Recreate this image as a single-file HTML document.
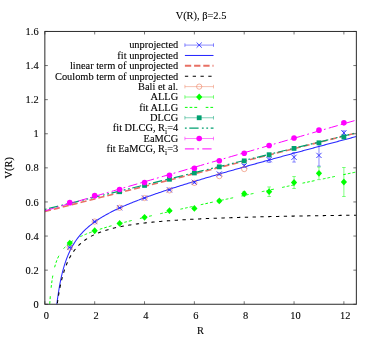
<!DOCTYPE html>
<html><head><meta charset="utf-8"><title>V(R)</title>
<style>html,body{margin:0;padding:0;background:#fff}svg{display:block;will-change:transform}</style></head>
<body>
<svg width="375" height="338" viewBox="0 0 375 338">
<rect width="375" height="338" fill="#fff"/>
<defs><clipPath id="c"><rect x="44.85" y="31.45" width="311.5" height="272.8"/></clipPath></defs>
<g stroke="#000" stroke-width="0.55" fill="none">
<path d="M44.85,304.25 h3 M356.35,304.25 h-3"/>
<path d="M44.85,270.15 h3 M356.35,270.15 h-3"/>
<path d="M44.85,236.05 h3 M356.35,236.05 h-3"/>
<path d="M44.85,201.95 h3 M356.35,201.95 h-3"/>
<path d="M44.85,167.85 h3 M356.35,167.85 h-3"/>
<path d="M44.85,133.75 h3 M356.35,133.75 h-3"/>
<path d="M44.85,99.65 h3 M356.35,99.65 h-3"/>
<path d="M44.85,65.55 h3 M356.35,65.55 h-3"/>
<path d="M44.85,31.45 h3 M356.35,31.45 h-3"/>
<path d="M44.85,304.25 v-3 M44.85,31.45 v3"/>
<path d="M94.69,304.25 v-3 M94.69,31.45 v3"/>
<path d="M144.53,304.25 v-3 M144.53,31.45 v3"/>
<path d="M194.37,304.25 v-3 M194.37,31.45 v3"/>
<path d="M244.21,304.25 v-3 M244.21,31.45 v3"/>
<path d="M294.05,304.25 v-3 M294.05,31.45 v3"/>
<path d="M343.89,304.25 v-3 M343.89,31.45 v3"/>
</g>
<g clip-path="url(#c)" fill="none">
<path d="M69.77,247.13 V247.81 M67.97,247.13 h3.6 M67.97,247.81 h3.6" stroke="#1818ff" stroke-width="0.5"/>
<path d="M67.17,244.87 l5.2,5.2 M67.17,250.07 l5.2,-5.2" stroke="#1818ff" stroke-width="0.8"/>
<path d="M94.69,221.22 V221.9 M92.89,221.22 h3.6 M92.89,221.9 h3.6" stroke="#1818ff" stroke-width="0.5"/>
<path d="M92.09,218.96 l5.2,5.2 M92.09,224.16 l5.2,-5.2" stroke="#1818ff" stroke-width="0.8"/>
<path d="M119.61,207.41 V208.09 M117.81,207.41 h3.6 M117.81,208.09 h3.6" stroke="#1818ff" stroke-width="0.5"/>
<path d="M117.01,205.15 l5.2,5.2 M117.01,210.35 l5.2,-5.2" stroke="#1818ff" stroke-width="0.8"/>
<path d="M144.53,197.52 V198.54 M142.73,197.52 h3.6 M142.73,198.54 h3.6" stroke="#1818ff" stroke-width="0.5"/>
<path d="M141.93,195.43 l5.2,5.2 M141.93,200.63 l5.2,-5.2" stroke="#1818ff" stroke-width="0.8"/>
<path d="M169.45,189.33 V190.36 M167.65,189.33 h3.6 M167.65,190.36 h3.6" stroke="#1818ff" stroke-width="0.5"/>
<path d="M166.85,187.24 l5.2,5.2 M166.85,192.44 l5.2,-5.2" stroke="#1818ff" stroke-width="0.8"/>
<path d="M194.37,181.66 V183.02 M192.57,181.66 h3.6 M192.57,183.02 h3.6" stroke="#1818ff" stroke-width="0.5"/>
<path d="M191.77,179.74 l5.2,5.2 M191.77,184.94 l5.2,-5.2" stroke="#1818ff" stroke-width="0.8"/>
<path d="M219.29,172.97 V175.01 M217.49,172.97 h3.6 M217.49,175.01 h3.6" stroke="#1818ff" stroke-width="0.5"/>
<path d="M216.69,171.39 l5.2,5.2 M216.69,176.59 l5.2,-5.2" stroke="#1818ff" stroke-width="0.8"/>
<path d="M244.21,164.44 V167.17 M242.41,164.44 h3.6 M242.41,167.17 h3.6" stroke="#1818ff" stroke-width="0.5"/>
<path d="M241.61,163.2 l5.2,5.2 M241.61,168.4 l5.2,-5.2" stroke="#1818ff" stroke-width="0.8"/>
<path d="M269.13,156.94 V162.39 M267.33,156.94 h3.6 M267.33,162.39 h3.6" stroke="#1818ff" stroke-width="0.5"/>
<path d="M266.53,157.07 l5.2,5.2 M266.53,162.27 l5.2,-5.2" stroke="#1818ff" stroke-width="0.8"/>
<path d="M294.05,152.5 V162.05 M292.25,152.5 h3.6 M292.25,162.05 h3.6" stroke="#1818ff" stroke-width="0.5"/>
<path d="M291.45,154.68 l5.2,5.2 M291.45,159.88 l5.2,-5.2" stroke="#1818ff" stroke-width="0.8"/>
<path d="M318.97,144.66 V166.14 M317.17,144.66 h3.6 M317.17,166.14 h3.6" stroke="#1818ff" stroke-width="0.5"/>
<path d="M316.37,152.8 l5.2,5.2 M316.37,158 l5.2,-5.2" stroke="#1818ff" stroke-width="0.8"/>
<path d="M343.89,130.85 V134.94 M342.09,130.85 h3.6 M342.09,134.94 h3.6" stroke="#1818ff" stroke-width="0.5"/>
<path d="M341.29,130.3 l5.2,5.2 M341.29,135.5 l5.2,-5.2" stroke="#1818ff" stroke-width="0.8"/>
<path d="M56.38,308.09 L57.39,299.79 L58.41,292.7 L59.42,286.56 L60.43,281.18 L61.45,276.43 L62.46,272.2 L63.47,268.4 L64.49,264.96 L65.5,261.84 L66.51,258.98 L67.53,256.36 L68.54,253.94 L69.55,251.7 L70.57,249.61 L71.58,247.67 L72.59,245.84 L73.61,244.13 L74.62,242.52 L75.63,240.99 L76.65,239.55 L77.66,238.18 L78.67,236.87 L79.69,235.63 L80.7,234.45 L81.71,233.31 L82.73,232.22 L83.74,231.18 L84.76,230.17 L85.77,229.2 L86.78,228.27 L87.8,227.37 L88.81,226.5 L89.82,225.65 L90.84,224.83 L91.85,224.04 L92.86,223.27 L93.88,222.52 L94.89,221.79 L95.9,221.08 L96.92,220.39 L97.93,219.71 L98.94,219.05 L99.96,218.4 L100.97,217.77 L101.98,217.15 L103,216.55 L104.01,215.95 L105.02,215.37 L106.04,214.8 L107.05,214.24 L108.06,213.69 L109.08,213.14 L110.09,212.61 L111.1,212.09 L112.12,211.57 L113.13,211.06 L114.14,210.56 L115.16,210.06 L116.17,209.58 L117.18,209.1 L118.2,208.62 L119.21,208.15 L120.22,207.69 L121.24,207.23 L122.25,206.78 L123.26,206.33 L124.28,205.89 L125.29,205.45 L126.31,205.02 L127.32,204.59 L128.33,204.16 L129.35,203.74 L130.36,203.33 L131.37,202.91 L132.39,202.5 L133.4,202.1 L134.41,201.7 L135.43,201.3 L136.44,200.9 L137.45,200.51 L138.47,200.12 L139.48,199.73 L140.49,199.35 L141.51,198.96 L142.52,198.59 L143.53,198.21 L144.55,197.83 L145.56,197.46 L146.57,197.09 L147.59,196.73 L148.6,196.36 L149.61,196 L150.63,195.64 L151.64,195.28 L152.65,194.92 L153.67,194.57 L154.68,194.21 L155.69,193.86 L156.71,193.51 L157.72,193.17 L158.73,192.82 L159.75,192.47 L160.76,192.13 L161.77,191.79 L162.79,191.45 L163.8,191.11 L164.81,190.77 L165.83,190.44 L166.84,190.1 L167.86,189.77 L168.87,189.44 L169.88,189.11 L170.9,188.78 L171.91,188.45 L172.92,188.12 L173.94,187.8 L174.95,187.47 L175.96,187.15 L176.98,186.82 L177.99,186.5 L179,186.18 L180.02,185.86 L181.03,185.54 L182.04,185.22 L183.06,184.91 L184.07,184.59 L185.08,184.27 L186.1,183.96 L187.11,183.65 L188.12,183.33 L189.14,183.02 L190.15,182.71 L191.16,182.4 L192.18,182.09 L193.19,181.78 L194.2,181.47 L195.22,181.16 L196.23,180.86 L197.24,180.55 L198.26,180.25 L199.27,179.94 L200.28,179.64 L201.3,179.33 L202.31,179.03 L203.32,178.73 L204.34,178.43 L205.35,178.12 L206.36,177.82 L207.38,177.52 L208.39,177.22 L209.41,176.92 L210.42,176.63 L211.43,176.33 L212.45,176.03 L213.46,175.73 L214.47,175.44 L215.49,175.14 L216.5,174.85 L217.51,174.55 L218.53,174.26 L219.54,173.96 L220.55,173.67 L221.57,173.37 L222.58,173.08 L223.59,172.79 L224.61,172.5 L225.62,172.21 L226.63,171.91 L227.65,171.62 L228.66,171.33 L229.67,171.04 L230.69,170.75 L231.7,170.46 L232.71,170.18 L233.73,169.89 L234.74,169.6 L235.75,169.31 L236.77,169.02 L237.78,168.74 L238.79,168.45 L239.81,168.16 L240.82,167.88 L241.83,167.59 L242.85,167.3 L243.86,167.02 L244.87,166.73 L245.89,166.45 L246.9,166.16 L247.91,165.88 L248.93,165.6 L249.94,165.31 L250.96,165.03 L251.97,164.75 L252.98,164.46 L254,164.18 L255.01,163.9 L256.02,163.62 L257.04,163.33 L258.05,163.05 L259.06,162.77 L260.08,162.49 L261.09,162.21 L262.1,161.93 L263.12,161.65 L264.13,161.37 L265.14,161.09 L266.16,160.81 L267.17,160.53 L268.18,160.25 L269.2,159.97 L270.21,159.69 L271.22,159.41 L272.24,159.14 L273.25,158.86 L274.26,158.58 L275.28,158.3 L276.29,158.02 L277.3,157.75 L278.32,157.47 L279.33,157.19 L280.34,156.92 L281.36,156.64 L282.37,156.36 L283.38,156.09 L284.4,155.81 L285.41,155.53 L286.42,155.26 L287.44,154.98 L288.45,154.71 L289.46,154.43 L290.48,154.16 L291.49,153.88 L292.5,153.61 L293.52,153.33 L294.53,153.06 L295.55,152.78 L296.56,152.51 L297.57,152.23 L298.59,151.96 L299.6,151.69 L300.61,151.41 L301.63,151.14 L302.64,150.87 L303.65,150.59 L304.67,150.32 L305.68,150.05 L306.69,149.77 L307.71,149.5 L308.72,149.23 L309.73,148.96 L310.75,148.68 L311.76,148.41 L312.77,148.14 L313.79,147.87 L314.8,147.59 L315.81,147.32 L316.83,147.05 L317.84,146.78 L318.85,146.51 L319.87,146.24 L320.88,145.97 L321.89,145.69 L322.91,145.42 L323.92,145.15 L324.93,144.88 L325.95,144.61 L326.96,144.34 L327.97,144.07 L328.99,143.8 L330,143.53 L331.01,143.26 L332.03,142.99 L333.04,142.72 L334.05,142.45 L335.07,142.18 L336.08,141.91 L337.1,141.64 L338.11,141.37 L339.12,141.1 L340.14,140.83 L341.15,140.56 L342.16,140.3 L343.18,140.03 L344.19,139.76 L345.2,139.49 L346.22,139.22 L347.23,138.95 L348.24,138.68 L349.26,138.41 L350.27,138.15 L351.28,137.88 L352.3,137.61 L353.31,137.34 L354.32,137.07 L355.34,136.81 L356.35,136.54" stroke="#2a2aff" stroke-width="1.05"/>
<path d="M44.85,211.5 L51.08,209.92 L57.31,208.35 L63.54,206.78 L69.77,205.21 L76,203.63 L82.23,202.06 L88.46,200.49 L94.69,198.91 L100.92,197.34 L107.15,195.77 L113.38,194.2 L119.61,192.62 L125.84,191.05 L132.07,189.48 L138.3,187.9 L144.53,186.33 L150.76,184.76 L156.99,183.19 L163.22,181.61 L169.45,180.04 L175.68,178.47 L181.91,176.89 L188.14,175.32 L194.37,173.75 L200.6,172.18 L206.83,170.6 L213.06,169.03 L219.29,167.46 L225.52,165.88 L231.75,164.31 L237.98,162.74 L244.21,161.17 L250.44,159.59 L256.67,158.02 L262.9,156.45 L269.13,154.87 L275.36,153.3 L281.59,151.73 L287.82,150.16 L294.05,148.58 L300.28,147.01 L306.51,145.44 L312.74,143.86 L318.97,142.29 L325.2,140.72 L331.43,139.15 L337.66,137.57 L343.89,136 L350.12,134.43 L356.35,132.85" stroke="#e87064" stroke-width="1.6" stroke-dasharray="6.2 3"/>
<path d="M56.38,311 L57.39,302.96 L58.41,296.12 L59.42,290.24 L60.43,285.11 L61.45,280.62 L62.46,276.64 L63.47,273.1 L64.49,269.92 L65.5,267.05 L66.51,264.45 L67.53,262.09 L68.54,259.92 L69.55,257.94 L70.57,256.11 L71.58,254.41 L72.59,252.85 L73.61,251.39 L74.62,250.03 L75.63,248.76 L76.65,247.58 L77.66,246.46 L78.67,245.41 L79.69,244.43 L80.7,243.5 L81.71,242.62 L82.73,241.78 L83.74,241 L84.76,240.25 L85.77,239.53 L86.78,238.86 L87.8,238.21 L88.81,237.59 L89.82,237.01 L90.84,236.44 L91.85,235.91 L92.86,235.39 L93.88,234.9 L94.89,234.42 L95.9,233.97 L96.92,233.53 L97.93,233.11 L98.94,232.71 L99.96,232.32 L100.97,231.94 L101.98,231.58 L103,231.23 L104.01,230.89 L105.02,230.56 L106.04,230.25 L107.05,229.94 L108.06,229.65 L109.08,229.36 L110.09,229.08 L111.1,228.81 L112.12,228.55 L113.13,228.3 L114.14,228.05 L115.16,227.81 L116.17,227.58 L117.18,227.36 L118.2,227.14 L119.21,226.93 L120.22,226.72 L121.24,226.52 L122.25,226.32 L123.26,226.13 L124.28,225.94 L125.29,225.76 L126.31,225.58 L127.32,225.41 L128.33,225.24 L129.35,225.07 L130.36,224.91 L131.37,224.76 L132.39,224.6 L133.4,224.45 L134.41,224.31 L135.43,224.16 L136.44,224.02 L137.45,223.89 L138.47,223.75 L139.48,223.62 L140.49,223.49 L141.51,223.37 L142.52,223.24 L143.53,223.12 L144.55,223 L145.56,222.89 L146.57,222.78 L147.59,222.66 L148.6,222.56 L149.61,222.45 L150.63,222.34 L151.64,222.24 L152.65,222.14 L153.67,222.04 L154.68,221.94 L155.69,221.85 L156.71,221.75 L157.72,221.66 L158.73,221.57 L159.75,221.48 L160.76,221.4 L161.77,221.31 L162.79,221.23 L163.8,221.14 L164.81,221.06 L165.83,220.98 L166.84,220.9 L167.86,220.82 L168.87,220.75 L169.88,220.67 L170.9,220.6 L171.91,220.53 L172.92,220.46 L173.94,220.39 L174.95,220.32 L175.96,220.25 L176.98,220.18 L177.99,220.11 L179,220.05 L180.02,219.99 L181.03,219.92 L182.04,219.86 L183.06,219.8 L184.07,219.74 L185.08,219.68 L186.1,219.62 L187.11,219.56 L188.12,219.51 L189.14,219.45 L190.15,219.39 L191.16,219.34 L192.18,219.28 L193.19,219.23 L194.2,219.18 L195.22,219.13 L196.23,219.08 L197.24,219.03 L198.26,218.98 L199.27,218.93 L200.28,218.88 L201.3,218.83 L202.31,218.78 L203.32,218.74 L204.34,218.69 L205.35,218.65 L206.36,218.6 L207.38,218.56 L208.39,218.51 L209.41,218.47 L210.42,218.43 L211.43,218.38 L212.45,218.34 L213.46,218.3 L214.47,218.26 L215.49,218.22 L216.5,218.18 L217.51,218.14 L218.53,218.1 L219.54,218.07 L220.55,218.03 L221.57,217.99 L222.58,217.95 L223.59,217.92 L224.61,217.88 L225.62,217.84 L226.63,217.81 L227.65,217.77 L228.66,217.74 L229.67,217.7 L230.69,217.67 L231.7,217.64 L232.71,217.6 L233.73,217.57 L234.74,217.54 L235.75,217.51 L236.77,217.48 L237.78,217.44 L238.79,217.41 L239.81,217.38 L240.82,217.35 L241.83,217.32 L242.85,217.29 L243.86,217.26 L244.87,217.23 L245.89,217.2 L246.9,217.18 L247.91,217.15 L248.93,217.12 L249.94,217.09 L250.96,217.06 L251.97,217.04 L252.98,217.01 L254,216.98 L255.01,216.96 L256.02,216.93 L257.04,216.9 L258.05,216.88 L259.06,216.85 L260.08,216.83 L261.09,216.8 L262.1,216.78 L263.12,216.75 L264.13,216.73 L265.14,216.71 L266.16,216.68 L267.17,216.66 L268.18,216.63 L269.2,216.61 L270.21,216.59 L271.22,216.57 L272.24,216.54 L273.25,216.52 L274.26,216.5 L275.28,216.48 L276.29,216.45 L277.3,216.43 L278.32,216.41 L279.33,216.39 L280.34,216.37 L281.36,216.35 L282.37,216.33 L283.38,216.31 L284.4,216.29 L285.41,216.27 L286.42,216.25 L287.44,216.23 L288.45,216.21 L289.46,216.19 L290.48,216.17 L291.49,216.15 L292.5,216.13 L293.52,216.11 L294.53,216.09 L295.55,216.07 L296.56,216.06 L297.57,216.04 L298.59,216.02 L299.6,216 L300.61,215.98 L301.63,215.97 L302.64,215.95 L303.65,215.93 L304.67,215.91 L305.68,215.9 L306.69,215.88 L307.71,215.86 L308.72,215.85 L309.73,215.83 L310.75,215.81 L311.76,215.8 L312.77,215.78 L313.79,215.76 L314.8,215.75 L315.81,215.73 L316.83,215.72 L317.84,215.7 L318.85,215.68 L319.87,215.67 L320.88,215.65 L321.89,215.64 L322.91,215.62 L323.92,215.61 L324.93,215.59 L325.95,215.58 L326.96,215.56 L327.97,215.55 L328.99,215.54 L330,215.52 L331.01,215.51 L332.03,215.49 L333.04,215.48 L334.05,215.46 L335.07,215.45 L336.08,215.44 L337.1,215.42 L338.11,215.41 L339.12,215.4 L340.14,215.38 L341.15,215.37 L342.16,215.36 L343.18,215.34 L344.19,215.33 L345.2,215.32 L346.22,215.3 L347.23,215.29 L348.24,215.28 L349.26,215.27 L350.27,215.25 L351.28,215.24 L352.3,215.23 L353.31,215.22 L354.32,215.2 L355.34,215.19 L356.35,215.18" stroke="#000000" stroke-width="1.05" stroke-dasharray="3.3 4.5"/>
<circle cx="69.77" cy="247.47" r="2.65" stroke="#ee8262" stroke-width="0.62"/>
<circle cx="94.69" cy="221.56" r="2.65" stroke="#ee8262" stroke-width="0.62"/>
<circle cx="119.61" cy="207.75" r="2.65" stroke="#ee8262" stroke-width="0.62"/>
<circle cx="144.53" cy="198.03" r="2.65" stroke="#ee8262" stroke-width="0.62"/>
<circle cx="169.45" cy="190.36" r="2.65" stroke="#ee8262" stroke-width="0.62"/>
<circle cx="194.37" cy="182.85" r="2.65" stroke="#ee8262" stroke-width="0.62"/>
<circle cx="219.29" cy="176.12" r="2.65" stroke="#ee8262" stroke-width="0.62"/>
<circle cx="244.21" cy="169.04" r="2.65" stroke="#ee8262" stroke-width="0.62"/>
<path d="M69.77,242.53 V243.55 M67.97,242.53 h3.6 M67.97,243.55 h3.6" stroke="#00ff00" stroke-width="0.5"/>
<path d="M69.77,239.64 l3.1,3.4 l-3.1,3.4 l-3.1,-3.4 z" fill="#00ff00"/>
<path d="M94.69,230.25 V231.28 M92.89,230.25 h3.6 M92.89,231.28 h3.6" stroke="#00ff00" stroke-width="0.5"/>
<path d="M94.69,227.36 l3.1,3.4 l-3.1,3.4 l-3.1,-3.4 z" fill="#00ff00"/>
<path d="M119.61,222.92 V223.94 M117.81,222.92 h3.6 M117.81,223.94 h3.6" stroke="#00ff00" stroke-width="0.5"/>
<path d="M119.61,220.03 l3.1,3.4 l-3.1,3.4 l-3.1,-3.4 z" fill="#00ff00"/>
<path d="M144.53,216.61 V217.98 M142.73,216.61 h3.6 M142.73,217.98 h3.6" stroke="#00ff00" stroke-width="0.5"/>
<path d="M144.53,213.9 l3.1,3.4 l-3.1,3.4 l-3.1,-3.4 z" fill="#00ff00"/>
<path d="M169.45,209.79 V211.5 M167.65,209.79 h3.6 M167.65,211.5 h3.6" stroke="#00ff00" stroke-width="0.5"/>
<path d="M169.45,207.25 l3.1,3.4 l-3.1,3.4 l-3.1,-3.4 z" fill="#00ff00"/>
<path d="M194.37,207.41 V209.45 M192.57,207.41 h3.6 M192.57,209.45 h3.6" stroke="#00ff00" stroke-width="0.5"/>
<path d="M194.37,205.03 l3.1,3.4 l-3.1,3.4 l-3.1,-3.4 z" fill="#00ff00"/>
<path d="M219.29,199.56 V202.29 M217.49,199.56 h3.6 M217.49,202.29 h3.6" stroke="#00ff00" stroke-width="0.5"/>
<path d="M219.29,197.53 l3.1,3.4 l-3.1,3.4 l-3.1,-3.4 z" fill="#00ff00"/>
<path d="M244.21,191.72 V195.81 M242.41,191.72 h3.6 M242.41,195.81 h3.6" stroke="#00ff00" stroke-width="0.5"/>
<path d="M244.21,190.37 l3.1,3.4 l-3.1,3.4 l-3.1,-3.4 z" fill="#00ff00"/>
<path d="M269.13,186.95 V196.49 M267.33,186.95 h3.6 M267.33,196.49 h3.6" stroke="#00ff00" stroke-width="0.5"/>
<path d="M269.13,188.32 l3.1,3.4 l-3.1,3.4 l-3.1,-3.4 z" fill="#00ff00"/>
<path d="M294.05,176.55 V188.48 M292.25,176.55 h3.6 M292.25,188.48 h3.6" stroke="#00ff00" stroke-width="0.5"/>
<path d="M294.05,179.11 l3.1,3.4 l-3.1,3.4 l-3.1,-3.4 z" fill="#00ff00"/>
<path d="M318.97,167 V179.61 M317.17,167 h3.6 M317.17,179.61 h3.6" stroke="#00ff00" stroke-width="0.5"/>
<path d="M318.97,169.91 l3.1,3.4 l-3.1,3.4 l-3.1,-3.4 z" fill="#00ff00"/>
<path d="M343.89,167.51 V196.49 M342.09,167.51 h3.6 M342.09,196.49 h3.6" stroke="#00ff00" stroke-width="0.5"/>
<path d="M343.89,178.6 l3.1,3.4 l-3.1,3.4 l-3.1,-3.4 z" fill="#00ff00"/>
<path d="M49.4,308.5 L50.43,294.41 L51.46,284.64 L52.49,277.45 L53.52,271.92 L54.55,267.52 L55.58,263.92 L56.61,260.92 L57.64,258.36 L58.67,256.16 L59.7,254.23 L60.73,252.53 L61.76,251 L62.79,249.63 L63.82,248.39 L64.85,247.25 L65.88,246.2 L66.91,245.23 L67.94,244.33 L68.97,243.49 L70,242.7 L71.03,241.95 L72.06,241.25 L73.09,240.58 L74.12,239.94 L75.15,239.34 L76.18,238.75 L77.21,238.2 L78.24,237.66 L79.27,237.15 L80.3,236.65 L81.33,236.16 L82.36,235.7 L83.39,235.24 L84.42,234.8 L85.45,234.38 L86.48,233.96 L87.51,233.55 L88.54,233.15 L89.57,232.76 L90.6,232.38 L91.63,232.01 L92.66,231.64 L93.69,231.28 L94.72,230.92 L95.75,230.58 L96.78,230.23 L97.81,229.9 L98.84,229.56 L99.87,229.23 L100.9,228.91 L101.93,228.59 L102.96,228.28 L103.99,227.96 L105.02,227.66 L106.05,227.35 L107.08,227.05 L108.11,226.75 L109.14,226.45 L110.17,226.16 L111.2,225.87 L112.23,225.58 L113.26,225.3 L114.29,225.01 L115.32,224.73 L116.35,224.45 L117.38,224.17 L118.41,223.9 L119.44,223.62 L120.47,223.35 L121.5,223.08 L122.53,222.81 L123.56,222.55 L124.59,222.28 L125.62,222.02 L126.65,221.75 L127.68,221.49 L128.71,221.23 L129.74,220.97 L130.77,220.72 L131.8,220.46 L132.83,220.21 L133.86,219.95 L134.89,219.7 L135.92,219.45 L136.95,219.19 L137.98,218.94 L139.01,218.69 L140.04,218.45 L141.07,218.2 L142.1,217.95 L143.13,217.7 L144.16,217.46 L145.19,217.21 L146.22,216.97 L147.25,216.73 L148.28,216.48 L149.31,216.24 L150.34,216 L151.37,215.76 L152.4,215.52 L153.43,215.28 L154.46,215.04 L155.49,214.8 L156.52,214.57 L157.55,214.33 L158.58,214.09 L159.61,213.85 L160.64,213.62 L161.67,213.38 L162.7,213.15 L163.74,212.91 L164.77,212.68 L165.8,212.45 L166.83,212.21 L167.86,211.98 L168.89,211.75 L169.92,211.52 L170.95,211.28 L171.98,211.05 L173.01,210.82 L174.04,210.59 L175.07,210.36 L176.1,210.13 L177.13,209.9 L178.16,209.67 L179.19,209.44 L180.22,209.21 L181.25,208.99 L182.28,208.76 L183.31,208.53 L184.34,208.3 L185.37,208.08 L186.4,207.85 L187.43,207.62 L188.46,207.39 L189.49,207.17 L190.52,206.94 L191.55,206.72 L192.58,206.49 L193.61,206.27 L194.64,206.04 L195.67,205.82 L196.7,205.59 L197.73,205.37 L198.76,205.14 L199.79,204.92 L200.82,204.69 L201.85,204.47 L202.88,204.25 L203.91,204.02 L204.94,203.8 L205.97,203.58 L207,203.35 L208.03,203.13 L209.06,202.91 L210.09,202.69 L211.12,202.47 L212.15,202.24 L213.18,202.02 L214.21,201.8 L215.24,201.58 L216.27,201.36 L217.3,201.14 L218.33,200.91 L219.36,200.69 L220.39,200.47 L221.42,200.25 L222.45,200.03 L223.48,199.81 L224.51,199.59 L225.54,199.37 L226.57,199.15 L227.6,198.93 L228.63,198.71 L229.66,198.49 L230.69,198.27 L231.72,198.05 L232.75,197.83 L233.78,197.61 L234.81,197.39 L235.84,197.18 L236.87,196.96 L237.9,196.74 L238.93,196.52 L239.96,196.3 L240.99,196.08 L242.02,195.86 L243.05,195.64 L244.08,195.43 L245.11,195.21 L246.14,194.99 L247.17,194.77 L248.2,194.55 L249.23,194.34 L250.26,194.12 L251.29,193.9 L252.32,193.68 L253.35,193.47 L254.38,193.25 L255.41,193.03 L256.44,192.81 L257.47,192.6 L258.5,192.38 L259.53,192.16 L260.56,191.95 L261.59,191.73 L262.62,191.51 L263.65,191.3 L264.68,191.08 L265.71,190.86 L266.74,190.65 L267.77,190.43 L268.8,190.21 L269.83,190 L270.86,189.78 L271.89,189.56 L272.92,189.35 L273.95,189.13 L274.98,188.92 L276.01,188.7 L277.04,188.48 L278.07,188.27 L279.1,188.05 L280.13,187.84 L281.16,187.62 L282.19,187.41 L283.22,187.19 L284.25,186.98 L285.28,186.76 L286.31,186.54 L287.34,186.33 L288.37,186.11 L289.4,185.9 L290.43,185.68 L291.46,185.47 L292.49,185.25 L293.52,185.04 L294.55,184.82 L295.58,184.61 L296.61,184.39 L297.64,184.18 L298.67,183.96 L299.7,183.75 L300.73,183.53 L301.76,183.32 L302.79,183.1 L303.82,182.89 L304.85,182.68 L305.88,182.46 L306.91,182.25 L307.94,182.03 L308.97,181.82 L310,181.6 L311.03,181.39 L312.06,181.18 L313.09,180.96 L314.12,180.75 L315.15,180.53 L316.18,180.32 L317.21,180.1 L318.24,179.89 L319.27,179.68 L320.3,179.46 L321.33,179.25 L322.36,179.03 L323.39,178.82 L324.42,178.61 L325.45,178.39 L326.48,178.18 L327.51,177.97 L328.54,177.75 L329.57,177.54 L330.6,177.32 L331.63,177.11 L332.66,176.9 L333.69,176.68 L334.72,176.47 L335.75,176.26 L336.78,176.04 L337.81,175.83 L338.84,175.62 L339.87,175.4 L340.9,175.19 L341.93,174.98 L342.96,174.76 L343.99,174.55 L345.02,174.34 L346.05,174.12 L347.08,173.91 L348.11,173.7 L349.14,173.48 L350.17,173.27 L351.2,173.06 L352.23,172.84 L353.26,172.63 L354.29,172.42 L355.32,172.21 L356.35,171.99" stroke="#00ff00" stroke-width="1.0" stroke-dasharray="2.7 2 2.7 2 2.9 8.5"/>
<rect x="117.21" y="189.32" width="4.8" height="4.8" fill="#00a070"/>
<rect x="142.13" y="183.01" width="4.8" height="4.8" fill="#00a070"/>
<rect x="167.05" y="176.87" width="4.8" height="4.8" fill="#00a070"/>
<rect x="191.97" y="170.56" width="4.8" height="4.8" fill="#00a070"/>
<rect x="216.89" y="164.43" width="4.8" height="4.8" fill="#00a070"/>
<rect x="241.81" y="158.46" width="4.8" height="4.8" fill="#00a070"/>
<rect x="266.73" y="152.32" width="4.8" height="4.8" fill="#00a070"/>
<rect x="291.65" y="146.01" width="4.8" height="4.8" fill="#00a070"/>
<rect x="316.57" y="140.39" width="4.8" height="4.8" fill="#00a070"/>
<rect x="341.49" y="134.59" width="4.8" height="4.8" fill="#00a070"/>
<path d="M44.85,209.45 L51.08,207.92 L57.31,206.39 L63.54,204.86 L69.77,203.33 L76,201.8 L82.23,200.26 L88.46,198.73 L94.69,197.2 L100.92,195.67 L107.15,194.14 L113.38,192.61 L119.61,191.08 L125.84,189.55 L132.07,188.02 L138.3,186.49 L144.53,184.95 L150.76,183.42 L156.99,181.89 L163.22,180.36 L169.45,178.83 L175.68,177.3 L181.91,175.77 L188.14,174.24 L194.37,172.71 L200.6,171.17 L206.83,169.64 L213.06,168.11 L219.29,166.58 L225.52,165.05 L231.75,163.52 L237.98,161.99 L244.21,160.46 L250.44,158.93 L256.67,157.39 L262.9,155.86 L269.13,154.33 L275.36,152.8 L281.59,151.27 L287.82,149.74 L294.05,148.21 L300.28,146.68 L306.51,145.15 L312.74,143.62 L318.97,142.08 L325.2,140.55 L331.43,139.02 L337.66,137.49 L343.89,135.96 L350.12,134.43 L356.35,132.9" stroke="#00a070" stroke-width="1.2" stroke-dasharray="1.8 2.6 9.3 3.3 1.8 2.6"/>
<circle cx="69.77" cy="202.63" r="2.8" fill="#ff00ff"/>
<circle cx="94.69" cy="195.64" r="2.8" fill="#ff00ff"/>
<circle cx="119.61" cy="189.5" r="2.8" fill="#ff00ff"/>
<circle cx="144.53" cy="182.51" r="2.8" fill="#ff00ff"/>
<circle cx="169.45" cy="175.35" r="2.8" fill="#ff00ff"/>
<circle cx="194.37" cy="168.19" r="2.8" fill="#ff00ff"/>
<circle cx="219.29" cy="160.69" r="2.8" fill="#ff00ff"/>
<circle cx="244.21" cy="153.19" r="2.8" fill="#ff00ff"/>
<circle cx="269.13" cy="145.51" r="2.8" fill="#ff00ff"/>
<circle cx="294.05" cy="138.01" r="2.8" fill="#ff00ff"/>
<circle cx="318.97" cy="130.17" r="2.8" fill="#ff00ff"/>
<circle cx="343.89" cy="122.84" r="2.8" fill="#ff00ff"/>
<path d="M44.85,210.82 L51.08,209 L57.31,207.19 L63.54,205.37 L69.77,203.56 L76,201.74 L82.23,199.93 L88.46,198.12 L94.69,196.3 L100.92,194.49 L107.15,192.67 L113.38,190.86 L119.61,189.05 L125.84,187.23 L132.07,185.42 L138.3,183.6 L144.53,181.79 L150.76,179.98 L156.99,178.16 L163.22,176.35 L169.45,174.53 L175.68,172.72 L181.91,170.9 L188.14,169.09 L194.37,167.28 L200.6,165.46 L206.83,163.65 L213.06,161.83 L219.29,160.02 L225.52,158.21 L231.75,156.39 L237.98,154.58 L244.21,152.76 L250.44,150.95 L256.67,149.14 L262.9,147.32 L269.13,145.51 L275.36,143.69 L281.59,141.88 L287.82,140.07 L294.05,138.25 L300.28,136.44 L306.51,134.62 L312.74,132.81 L318.97,130.99 L325.2,129.18 L331.43,127.37 L337.66,125.55 L343.89,123.74 L350.12,121.92 L356.35,120.11" stroke="#ff00ff" stroke-width="1.0" stroke-dasharray="9.3 3 1.8 3.3"/>
</g>
<rect x="44.85" y="31.45" width="311.5" height="272.8" fill="none" stroke="#2a2a2a" stroke-width="1.0"/>
<g font-family="'Liberation Serif', serif" font-size="10.4" fill="#000" stroke="#000" stroke-width="0.1">
<text x="178.2" y="48.4" text-anchor="end">unprojected</text>
<text x="178.2" y="58.78" text-anchor="end">fit unprojected</text>
<text x="178.2" y="69.16" text-anchor="end">linear term of unprojected</text>
<text x="178.2" y="79.54" text-anchor="end">Coulomb term of unprojected</text>
<text x="178.2" y="89.92" text-anchor="end">Bali et al.</text>
<text x="178.2" y="100.3" text-anchor="end">ALLG</text>
<text x="178.2" y="110.68" text-anchor="end">fit ALLG</text>
<text x="178.2" y="121.06" text-anchor="end">DLCG</text>
<text x="178.2" y="131.44" text-anchor="end">fit DLCG, R<tspan dy="2.5" font-size="7.5">i</tspan><tspan dy="-2.5">=4</tspan></text>
<text x="178.2" y="141.82" text-anchor="end">EaMCG</text>
<text x="178.2" y="152.2" text-anchor="end">fit EaMCG, R<tspan dy="2.5" font-size="7.5">i</tspan><tspan dy="-2.5">=3</tspan></text>
<text x="38.6" y="307.85" text-anchor="end">0</text>
<text x="38.6" y="273.75" text-anchor="end">0.2</text>
<text x="38.6" y="239.65" text-anchor="end">0.4</text>
<text x="38.6" y="205.55" text-anchor="end">0.6</text>
<text x="38.6" y="171.45" text-anchor="end">0.8</text>
<text x="38.6" y="137.35" text-anchor="end">1</text>
<text x="38.6" y="103.25" text-anchor="end">1.2</text>
<text x="38.6" y="69.15" text-anchor="end">1.4</text>
<text x="38.6" y="35.05" text-anchor="end">1.6</text>
<text x="46.25" y="318.6" text-anchor="middle">0</text>
<text x="96.09" y="318.6" text-anchor="middle">2</text>
<text x="145.93" y="318.6" text-anchor="middle">4</text>
<text x="195.77" y="318.6" text-anchor="middle">6</text>
<text x="245.61" y="318.6" text-anchor="middle">8</text>
<text x="295.45" y="318.6" text-anchor="middle">10</text>
<text x="345.29" y="318.6" text-anchor="middle">12</text>
<text x="201" y="18.9" text-anchor="middle">V(R), β=2.5</text>
<text x="200.5" y="334" text-anchor="middle">R</text>
<text transform="translate(11.9,167.8) rotate(-90)" text-anchor="middle">V(R)</text>
</g>
<g fill="none">
<path d="M184.9,45.1 H213.5 M184.9,43.3 v3.6 M213.5,43.3 v3.6" stroke="#1818ff" stroke-width="0.5" fill="none"/>
<path d="M196.6,42.5 l5.2,5.2 M196.6,47.7 l5.2,-5.2" stroke="#1818ff" stroke-width="0.8"/>
<path d="M184.9,55.48 H213.5" stroke="#2a2aff" stroke-width="1.05"/>
<path d="M184.9,65.86 H213.5" stroke="#e87064" stroke-width="2.0" stroke-dasharray="6.3 2.9"/>
<path d="M184.9,76.24 H213.5" stroke="#000000" stroke-width="1.05" stroke-dasharray="3.3 4.5"/>
<path d="M184.9,86.62 H213.5 M184.9,84.82 v3.6 M213.5,84.82 v3.6" stroke="#ee8262" stroke-width="0.5" fill="none"/>
<circle cx="199.2" cy="86.62" r="2.65" stroke="#ee8262" stroke-width="0.62"/>
<path d="M184.9,97 H213.5 M184.9,95.2 v3.6 M213.5,95.2 v3.6" stroke="#00ff00" stroke-width="0.5" fill="none"/>
<path d="M199.2,93.6 l3.1,3.4 l-3.1,3.4 l-3.1,-3.4 z" fill="#00ff00"/>
<path d="M184.9,107.38 H213.5" stroke="#00ff00" stroke-width="1.0" stroke-dasharray="2.7 2 2.7 2 2.9 8.5"/>
<path d="M184.9,117.76 H213.5 M184.9,115.96 v3.6 M213.5,115.96 v3.6" stroke="#00a070" stroke-width="0.5" fill="none"/>
<rect x="196.8" y="115.36" width="4.8" height="4.8" fill="#00a070"/>
<path d="M184.9,128.14 H213.5" stroke="#00a070" stroke-width="1.2" stroke-dasharray="1.8 2.6 9.3 3.3 1.8 2.6"/>
<path d="M184.9,138.52 H213.5 M184.9,136.72 v3.6 M213.5,136.72 v3.6" stroke="#ff00ff" stroke-width="0.5" fill="none"/>
<circle cx="199.2" cy="138.52" r="2.8" fill="#ff00ff"/>
<path d="M184.9,148.9 H213.5" stroke="#ff00ff" stroke-width="1.0" stroke-dasharray="9.3 3 1.8 3.3"/>
</g>
</svg>
</body></html>
